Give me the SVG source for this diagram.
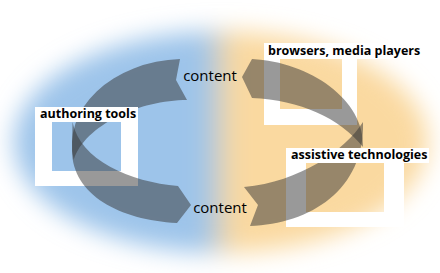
<svg xmlns="http://www.w3.org/2000/svg" width="440" height="273" viewBox="0 0 440 273">
<defs>
  <linearGradient id="bg" gradientUnits="userSpaceOnUse" x1="203" y1="0" x2="233" y2="0">
    <stop offset="0" stop-color="#9dc4ea"/>
    <stop offset="1" stop-color="#fad9a0"/>
  </linearGradient>
  <filter id="blur" x="-20%" y="-30%" width="140%" height="160%">
    <feGaussianBlur stdDeviation="12"/>
  </filter>
</defs>
<style>
  .frame{fill:#fff;fill-rule:evenodd}
  .band{fill:#fff}
  .label{font-family:"Open Sans","Noto Sans",sans-serif;font-weight:bold;font-size:12.5px;fill:#000}
  .flow{fill:#333;fill-opacity:.5}
  .content{font-family:"Open Sans","Noto Sans",sans-serif;font-size:15px;fill:#000;text-anchor:middle}
</style>
<rect width="440" height="273" fill="#fff"/>
<ellipse cx="221" cy="142" rx="207" ry="111" fill="url(#bg)" filter="url(#blur)"/>

<g id="authoring-tools"><path class="frame" d="M35,107H138V186H35Z M52,122H121V171H52Z"/></g>
<g id="browsers-media-players"><path class="frame" d="M264,43H357V125H264Z M280,59H342V109H280Z"/></g>
<g id="assistive-technologies"><path class="frame" d="M286,148H404V227H286Z M306,163H384V212H306Z"/></g>

<g id="connectors">
  <path class="flow" d="M73.7,160 A114,86 0 0 1 180,59 L176,80 L187,100 C140,100 85,125 73.7,160Z"/>
  <path class="flow" d="M72.5,122 L72,150 C72,195 120,220 177,223 L191,205 L178,186 C130,182 80,160 72.5,122Z"/>
  <path class="flow" d="M242,77 L252,59 C310,62 365,100 363,147 C340,118 300,100 252,98Z"/>
  <path class="flow" d="M244,187 L258,205 L250,226 C310,224 365,190 363,122 C345,150 300,182 244,187Z"/>
  <text class="content" x="210" y="81">content</text>
  <text class="content" x="220" y="213">content</text>
</g>

<g id="authoring-tools-label"><rect class="band" x="35" y="107" width="103" height="15"/><text class="label" x="40" y="118">authoring tools</text></g>
<g id="browsers-media-players-label"><rect class="band" x="264" y="43" width="157" height="16"/><text class="label" x="268" y="54.5">browsers, media players</text></g>
<g id="assistive-technologies-label"><rect class="band" x="286" y="148" width="143" height="15"/><text class="label" x="291" y="159">assistive technologies</text></g>
</svg>
